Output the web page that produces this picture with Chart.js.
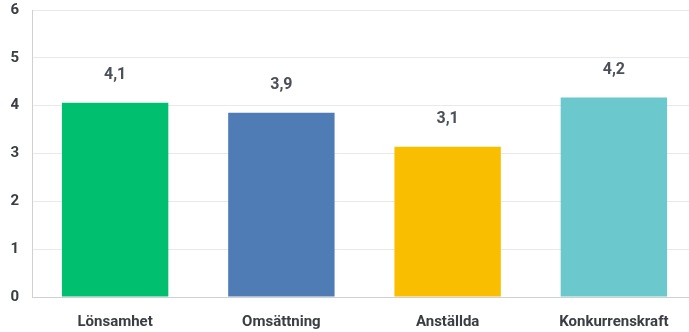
<!DOCTYPE html>
<html>
<head>
<meta charset="utf-8">
<script src="https://cdn.jsdelivr.net/npm/chart.js@4/dist/chart.umd.min.js"></script>
<style>
  html, body { margin: 0; padding: 0; background: #fff; overflow: hidden; }
  #wrap { width: 697px; height: 344px; margin-top: -12px; position: relative; }
</style>
</head>
<body>
<div id="wrap"><canvas id="myChart"></canvas></div>
<script>
'use strict'

// ------------------------- Data -------------------------------------- //
const categories = ['Lönsamhet', 'Omsättning', 'Anställda', 'Konkurrenskraft'];
const values = [4.06, 3.85, 3.14, 4.17];
const valueLabels = ['4,1', '3,9', '3,1', '4,2'];
const barColors = ['#00bf6f', '#507cb6', '#f9be00', '#6bc8cd'];
const yTicks = [0, 1, 2, 3, 4, 5, 6];

const fontFamily = 'Roboto, "Liberation Sans", sans-serif';

// draws the value label above each bar
const valueLabelPlugin = {
    id: 'valueLabels',
    afterDatasetsDraw(chart) {
        const ctx = chart.ctx;
        const meta = chart.getDatasetMeta(0);
        ctx.save();
        ctx.font = 'bold 16px ' + fontFamily;
        ctx.fillStyle = '#4b5059';
        ctx.textAlign = 'center';
        ctx.textBaseline = 'middle';
        meta.data.forEach(function(bar, i) {
            ctx.fillText(valueLabels[i], bar.x, bar.y - 28);
        });
        ctx.restore();
    }
};

const ctx = document.getElementById('myChart').getContext('2d');
const myChart = new Chart(ctx, {
    type: 'bar',
    data: {
        labels: categories,
        datasets: [{
            data: values,
            backgroundColor: barColors,
            borderWidth: 0,
            barPercentage: 0.64,
            categoryPercentage: 1
        }]
    },
    options: {
        responsive: true,
        maintainAspectRatio: false,
        animation: false,
        layout: { padding: 0 },
        plugins: {
            legend: { display: false },
            tooltip: { enabled: false }
        },
        scales: {
            x: {
                afterFit(scale) { scale.height = 35; },
                grid: { display: false, drawTicks: false },
                border: { color: '#d0d0d0', width: 1 },
                ticks: {
                    padding: 16,
                    color: '#3a3d42',
                    font: { family: fontFamily, size: 15, weight: 'bold' }
                }
            },
            y: {
                min: 0,
                max: 6,
                afterFit(scale) { scale.width = 32; },
                afterBuildTicks(axis) {
                    axis.ticks = yTicks.map(v => ({ value: v }));
                },
                grid: { color: '#e9e9e9', drawTicks: false },
                border: { color: '#d0d0d0', width: 1 },
                ticks: {
                    padding: 13,
                    color: '#3a3d42',
                    font: { family: fontFamily, size: 15, weight: 'bold' }
                }
            }
        }
    },
    plugins: [valueLabelPlugin]
});
</script>
</body>
</html>
